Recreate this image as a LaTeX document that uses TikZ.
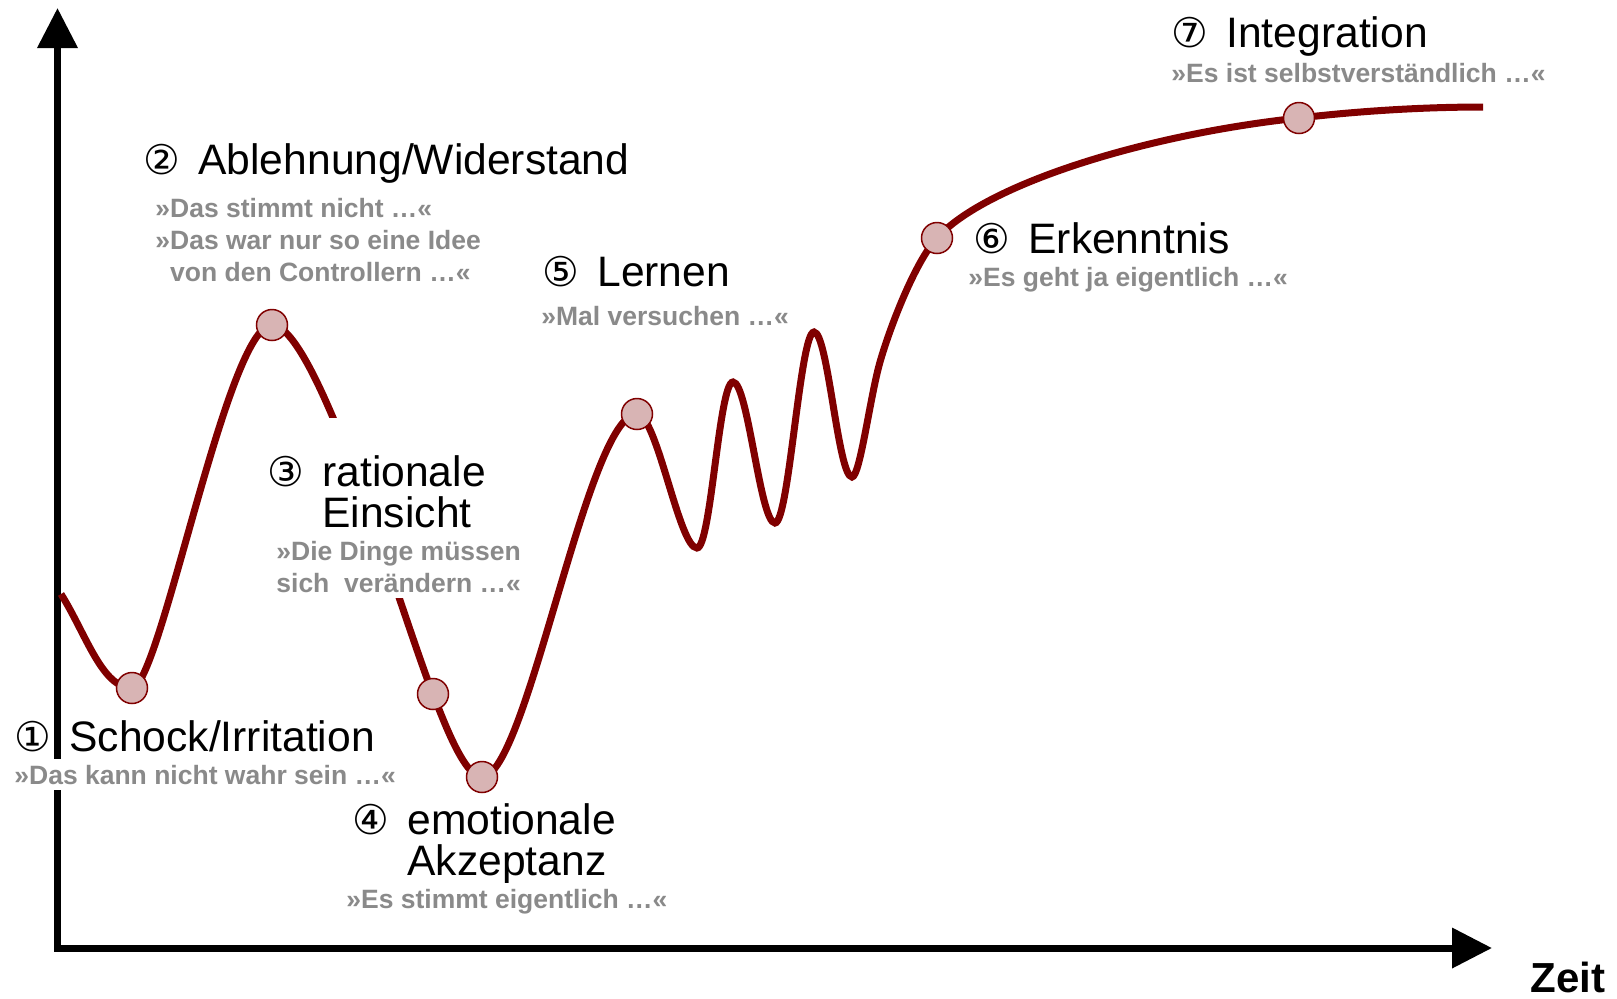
\documentclass[tikz,border=0pt]{standalone}
\usepackage{fontspec}
\setmainfont{Liberation Sans}
\newfontfamily\circfont{DejaVu Sans}
\usetikzlibrary{arrows.meta}
\definecolor{curvered}{HTML}{800000}
\definecolor{dotrose}{HTML}{D8B4B4}
\definecolor{quotegray}{HTML}{8A8A8A}
\newcommand{\nr}[1]{\makebox[27.5pt][l]{\circfont\fontsize{20.5}{20}\selectfont #1}}

\begin{document}
\begin{tikzpicture}[x=0.5pt, y=-0.5pt,
    axisline/.style={line width=3.5pt, arrows={Triangle[length=20pt,width=19.5pt]-Triangle[length=20pt,width=19.5pt]}},
    trend/.style={draw=curvered, line width=3.5pt},
    station/.style={circle, draw=curvered, fill=dotrose, line width=0.75pt, minimum size=15.5pt, inner sep=0pt},
    phase/.style={anchor=base west, inner sep=0pt, align=left, font=\fontsize{21.3}{20.5}\selectfont},
    saying/.style={anchor=base west, inner xsep=0pt, inner ysep=3pt, fill=white, align=left, text=quotegray, font=\bfseries\fontsize{13.25}{16}\selectfont}]
  \useasboundingbox (0,0) rectangle (1617,998);

  \coordinate (o)    at (57.5,948);
  \coordinate (ytip) at (57.5,8);
  \coordinate (xtip) at (1492,948);
  \draw[axisline] (ytip) -- (o) -- (xtip);

  % points of the curve
  \coordinate (c0) at (61,594);
  \coordinate (d1) at (132,688);
  \coordinate (d2) at (272,325);
  \coordinate (d3) at (433,694);
  \coordinate (d4) at (482,777);
  \coordinate (d5) at (637,414);
  \coordinate (t1) at (697,548);
  \coordinate (k1) at (733,382);
  \coordinate (t2) at (775,523);
  \coordinate (k2) at (814,332);
  \coordinate (t3) at (852,477);
  \coordinate (m6) at (880,362);
  \coordinate (d6) at (937,238);
  \coordinate (d7) at (1299,118);
  \coordinate (c8) at (1483,107);

  \draw[trend] (c0) .. controls +(25,40) and +(-30,0) .. (d1)
    .. controls +(28,0) and +(-45,0) .. (d2)
    .. controls +(45,0) and +(-30,-75) .. (d3)
    .. controls +(10,25) and +(-18,0) .. (d4)
    .. controls +(45,0) and +(-50,0) .. (d5)
    .. controls +(20,0) and +(-18,0) .. (t1)
    .. controls +(14,0) and +(-14,0) .. (k1)
    .. controls +(15,0) and +(-15,0) .. (t2)
    .. controls +(14,0) and +(-14,0) .. (k2)
    .. controls +(14,0) and +(-14,0) .. (t3)
    .. controls +(8,0) and +(-10,35) .. (m6)
    .. controls +(10,-35) and +(-22,24) .. (d6)
    .. controls +(50,-55) and +(-150,16) .. (d7)
    .. controls +(60,-7) and +(-60,0) .. (c8);

  \foreach \i in {1,...,7}
    \node[station] (s\i) at (d\i) {};

  % multi-line nodes sit on the baseline of their last line
  \node[phase] (h1) at (14,751) {\nr{①}Schock/Irritation};
  \node[saying] (q1) at (14,784) {»Das kann nicht wahr sein …«};
  \node[phase] (h2) at (143,174) {\nr{②}Ablehnung/Widerstand};
  \node[saying] (q2) at (155,281) {»Das stimmt nicht …«\\»Das war nur so eine Idee\\\phantom{»}von den Controllern …«};
  \node[phase, fill=white, text height=54.5pt, text depth=5.5pt] (h3) at (267,527) {\nr{③}rationale\\\nr{}Einsicht};
  \node[saying] (q3) at (276,592) {»Die Dinge müssen\\sich\ \ verändern …«};
  \node[phase] (h4) at (352,875) {\nr{④}emotionale\\\nr{}Akzeptanz};
  \node[saying] (q4) at (346,908) {»Es stimmt eigentlich …«};
  \node[phase] (h5) at (542,286) {\nr{⑤}Lernen};
  \node[saying] (q5) at (541,325) {»Mal versuchen …«};
  \node[phase] (h6) at (973,253) {\nr{⑥}Erkenntnis};
  \node[saying] (q6) at (968,286) {»Es geht ja eigentlich …«};
  \node[phase] (h7) at (1171,47) {\nr{⑦}Integration};
  \node[saying] (q7) at (1171,82) {»Es ist selbstverständlich …«};
  \node[anchor=base west, inner sep=0pt, font=\bfseries\fontsize{21}{24}\selectfont] (zeit) at (1530,992) {Zeit};
\end{tikzpicture}
\end{document}
